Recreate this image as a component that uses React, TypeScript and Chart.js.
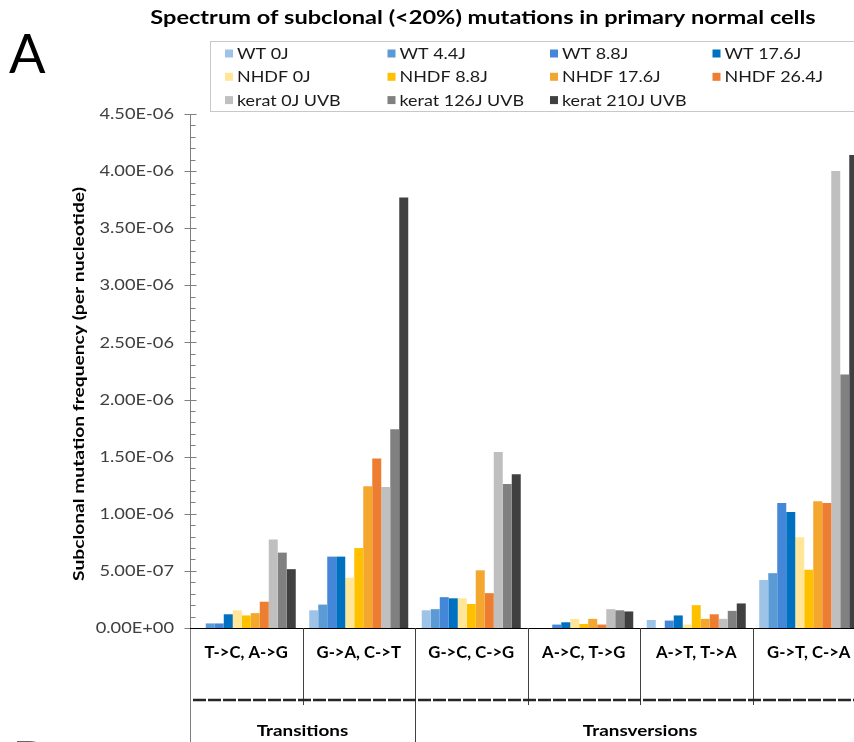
import React, { useEffect, useRef } from "react";
import { Chart, registerables } from "chart.js";

Chart.register(...registerables);

// ---------- DATA (values in units of 1e-6 per nucleotide) ----------
const UNIT = 1e-6;
const categories = ["T->C, A->G", "G->A, C->T", "G->C, C->G", "A->C, T->G", "A->T, T->A", "G->T, C->A"];
const groupLabels = ["Transitions", "Transversions"];
const groupSizes = [2, 4];

const seriesNames = [
  "WT 0J", "WT 4.4J", "WT 8.8J", "WT 17.6J",
  "NHDF 0J", "NHDF 8.8J", "NHDF 17.6J", "NHDF 26.4J",
  "kerat 0J UVB", "kerat 126J UVB", "kerat 210J UVB",
];
const seriesColors = [
  "#9DC3E6", "#5B9BD5", "#4486D8", "#0070C0",
  "#FFE699", "#FFC000", "#F3A72E", "#ED7D31",
  "#BFBFBF", "#808080", "#404040",
];

const wt0 = [0, 0.155, 0.155, 0, 0.07, 0.42];
const wt44 = [0.04, 0.205, 0.165, 0, 0, 0.48];
const wt88 = [0.04, 0.625, 0.27, 0.03, 0.065, 1.095];
const wt176 = [0.12, 0.625, 0.26, 0.05, 0.11, 1.015];
const nhdf0 = [0.155, 0.44, 0.26, 0.08, 0.03, 0.795];
const nhdf88 = [0.11, 0.7, 0.21, 0.035, 0.2, 0.51];
const nhdf176 = [0.13, 1.24, 0.505, 0.08, 0.08, 1.11];
const nhdf264 = [0.23, 1.485, 0.305, 0.03, 0.12, 1.095];
const kerat0 = [0.775, 1.235, 1.54, 0.165, 0.08, 4.0];
const kerat126 = [0.66, 1.74, 1.26, 0.155, 0.15, 2.22];
const kerat210 = [0.515, 3.77, 1.345, 0.145, 0.215, 4.14];

const seriesValues = [wt0, wt44, wt88, wt176, nhdf0, nhdf88, nhdf176, nhdf264, kerat0, kerat126, kerat210];

const yMax = 4.5;
const yStep = 0.5;
const yMinorStep = 0.1;
const yTickLabels = [
  "0.00E+00", "5.00E-07", "1.00E-06", "1.50E-06", "2.00E-06",
  "2.50E-06", "3.00E-06", "3.50E-06", "4.00E-06", "4.50E-06",
];

const titleText = "Spectrum of subclonal (<20%) mutations in primary normal cells";
const yTitleText = "Subclonal mutation frequency (per nucleotide)";
const panelLabel = "A";
const nextPanelLabel = "B";

const FONT = "Lato, 'Open Sans', sans-serif";

// draw text horizontally stretched by sx (the reference figure is stretched)
function stretchText(
  ctx: CanvasRenderingContext2D,
  text: string,
  x: number,
  y: number,
  sx: number,
  align: CanvasTextAlign
) {
  ctx.save();
  ctx.translate(x, y);
  ctx.scale(sx, 1);
  ctx.textAlign = align;
  ctx.fillText(text, 0, 0);
  ctx.restore();
}

const decorPlugin = {
  id: "decor",
  afterDraw(chart: any) {
    const ctx = chart.ctx as CanvasRenderingContext2D;
    const x = chart.scales.x;
    const y = chart.scales.y;
    const area = chart.chartArea;
    const H = chart.height;
    const zeroY = y.getPixelForValue(0);
    ctx.save();

    // panel letters
    ctx.fillStyle = "#000";
    ctx.font = `400 54px ${FONT}`;
    ctx.textBaseline = "alphabetic";
    stretchText(ctx, panelLabel, 9, 73, 1.0, "left");
    ctx.fillStyle = "#666";
    stretchText(ctx, nextPanelLabel, 12, 780, 1.0, "left");

    // title
    ctx.fillStyle = "#000";
    ctx.font = `700 19px ${FONT}`;
    ctx.textBaseline = "middle";
    stretchText(ctx, titleText, 483, 18, 1.24, "center");

    // legend
    ctx.fillStyle = "#fff";
    ctx.fillRect(210.5, 41.5, 700, 70);
    ctx.strokeStyle = "#C8C8C8";
    ctx.lineWidth = 1;
    ctx.strokeRect(210.5, 41.5, 700, 70);
    ctx.font = `400 16px ${FONT}`;
    ctx.textBaseline = "middle";
    chart.data.datasets.forEach((ds: any, i: number) => {
      const col = i % 4;
      const row = Math.floor(i / 4);
      const lx = 225 + col * 162.5;
      const ly = 53.5 + row * 23.3;
      ctx.fillStyle = ds.backgroundColor;
      ctx.fillRect(lx, ly - 4, 8, 8);
      ctx.fillStyle = "#1a1a1a";
      stretchText(ctx, ds.label, lx + 12, ly + 0.5, 1.12, "left");
    });

    // y tick labels
    ctx.fillStyle = "#404040";
    ctx.font = `400 16px ${FONT}`;
    ctx.textBaseline = "middle";
    y.ticks.forEach((t: any, i: number) => {
      stretchText(ctx, yTickLabels[i], area.left - 16, y.getPixelForValue(t.value), 1.14, "right");
    });

    // y axis line + ticks
    const axX = Math.round(area.left) + 0.5;
    ctx.strokeStyle = "#7F7F7F";
    ctx.lineWidth = 1;
    ctx.beginPath();
    ctx.moveTo(axX, Math.round(area.top));
    ctx.lineTo(axX, H);
    ctx.stroke();
    ctx.beginPath();
    for (let v = 0; v <= yMax + 1e-9; v += yMinorStep) {
      const py = Math.round(y.getPixelForValue(v * UNIT)) + 0.5;
      const isMajor = Math.abs(v / yStep - Math.round(v / yStep)) < 1e-6;
      if (isMajor) {
        ctx.moveTo(axX - 6, py);
        ctx.lineTo(axX + 6, py);
      } else {
        ctx.moveTo(axX, py);
        ctx.lineTo(axX + 5, py);
      }
    }
    ctx.stroke();

    // y title
    ctx.save();
    ctx.translate(79, 384);
    ctx.rotate(-Math.PI / 2);
    ctx.fillStyle = "#000";
    ctx.font = `700 16px ${FONT}`;
    ctx.textBaseline = "middle";
    stretchText(ctx, yTitleText, 0, 0, 1.2, "center");
    ctx.restore();

    // x axis line
    ctx.strokeStyle = "#000";
    ctx.beginPath();
    ctx.moveTo(area.left, Math.round(zeroY) + 0.5);
    ctx.lineTo(area.right, Math.round(zeroY) + 0.5);
    ctx.stroke();

    // category boundaries
    const n = categories.length;
    const half = (x.getPixelForValue(1) - x.getPixelForValue(0)) / 2;
    const boundaries: number[] = [];
    for (let i = 0; i <= n; i++) {
      boundaries.push(i === 0 ? area.left : i === n ? area.right : x.getPixelForValue(i) - half);
    }
    const groupBounds = new Set<number>([0]);
    let acc = 0;
    groupSizes.forEach((g) => {
      acc += g;
      groupBounds.add(acc);
    });

    ctx.strokeStyle = "#404040";
    ctx.lineWidth = 1;
    ctx.beginPath();
    for (let i = 1; i < n; i++) {
      const bx = Math.round(boundaries[i]) + 0.5;
      ctx.moveTo(bx, zeroY);
      ctx.lineTo(bx, groupBounds.has(i) ? H : zeroY + 77);
    }
    ctx.stroke();

    // category labels
    ctx.fillStyle = "#000";
    ctx.font = `700 17px ${FONT}`;
    ctx.textBaseline = "middle";
    categories.forEach((c, i) => {
      stretchText(ctx, c, x.getPixelForValue(i), zeroY + 25, 0.98, "center");
    });

    // dashed separator line
    ctx.strokeStyle = "#262626";
    ctx.lineWidth = 2.5;
    ctx.setLineDash([13, 2]);
    ctx.beginPath();
    ctx.moveTo(area.left + 3, zeroY + 72);
    ctx.lineTo(area.right, zeroY + 72);
    ctx.stroke();
    ctx.setLineDash([]);

    // group labels
    ctx.fillStyle = "#000";
    ctx.font = `700 16px ${FONT}`;
    ctx.textBaseline = "middle";
    let start = 0;
    groupSizes.forEach((g, gi) => {
      const l = boundaries[start];
      const r = boundaries[start + g];
      stretchText(ctx, groupLabels[gi], (l + r) / 2, zeroY + 103, 1.18, "center");
      start += g;
    });

    ctx.restore();
  },
};

export default function App() {
  const ref = useRef<HTMLCanvasElement | null>(null);
  useEffect(() => {
    if (!ref.current) return;
    const chart = new Chart(ref.current, {
      type: "bar",
      data: {
        labels: categories,
        datasets: seriesNames.map((name, i) => ({
          label: name,
          data: seriesValues[i].map((v) => v * UNIT),
          backgroundColor: seriesColors[i],
          borderWidth: 0,
          categoryPercentage: 0.88,
          barPercentage: 1.0,
        })),
      },
      options: {
        responsive: false,
        animation: false,
        devicePixelRatio: 1,
        layout: { padding: { top: 114, bottom: 114, left: 190, right: 15 } },
        plugins: {
          legend: { display: false },
          title: { display: false },
          tooltip: { enabled: false },
        },
        scales: {
          x: { display: false },
          y: {
            display: false,
            min: 0,
            max: yMax * UNIT,
            afterBuildTicks: (s: any) => {
              s.ticks = yTickLabels.map((_, i) => ({ value: i * yStep * UNIT }));
            },
          },
        },
      },
      plugins: [decorPlugin],
    });
    return () => chart.destroy();
  }, []);

  return (
    <div style={{ position: "absolute", left: 0, top: 0, width: 854, height: 742, overflow: "hidden", background: "#fff" }}>
      <canvas ref={ref} width={880} height={742} style={{ display: "block" }} />
    </div>
  );
}
